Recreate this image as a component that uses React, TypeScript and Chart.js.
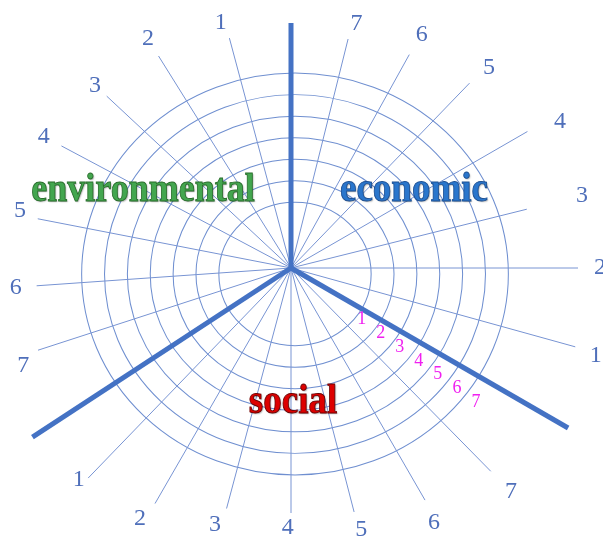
import React, { useEffect, useRef } from 'react';
import { Chart, registerables } from 'chart.js';

Chart.register(...registerables);

// ---- data ----
const SECTOR_NAMES = ['economic', 'social', 'environmental'];
const ITEM_LABELS = ['7', '6', '5', '4', '3', '2', '1'];
// one empty slot (sector boundary) followed by the 7 item spokes, per sector
const SPOKE_LABELS = SECTOR_NAMES.flatMap(() => ['', ...ITEM_LABELS]);
const RING_VALUES = [1, 2, 3, 4, 5, 6, 7];
const RING_LABELS = ['1', '2', '3', '4', '5', '6', '7'];

// ---- styles (hand-drawn look of the original) ----
const GRID_COLOR = '#6f8fd0';
const SPOKE_COLOR = '#7894d3';
const THICK_COLOR = '#4472c4';
const NUM_COLOR = '#4f6fba';
const TICK_COLOR = '#f020f0';
// spoke lengths (px) per slot; slots 0/8/16 are the thick sector boundaries
const SPOKE_LEN = [
  245, 236, 244, 257, 273, 243, 287, 295,
  320, 285, 268, 252, 245, 249, 272, 292,
  309, 266, 255, 258, 260, 252, 250, 238,
];
// small angular deviations (deg) of the drawn spokes
const SPOKE_DA = [
  0, -1, -1, -1, 0, 1, 0, 0.5,
  0, 0.5, 0, 0.5, 0, 0, 0, -1,
  -3.2, -3, -4, -4, -2, -2, -2, 0,
];
const LABEL_R = [
  0, 253, 267, 282, 306, 300, 309, 317,
  0, 314, 292, 271, 260, 268, 293, 300,
  0, 285, 276, 277, 280, 268, 270, 255,
];
const LABEL_DA = [
  0, 0, -0.7, -0.4, 1.5, 1, 0, 1,
  0, 0.5, 0.7, 0, 0.7, 1.5, 1, 0,
  0, -5, -4, -3, -2, -2, -2, -1,
];
const SECTOR_STYLE: Record<string, { x: number; y: number; fill: string; stroke: string; size: number }> = {
  economic: { x: 414, y: 201, fill: '#2a76cc', stroke: '#1c4f92', size: 37 },
  social: { x: 293, y: 413, fill: '#dd0000', stroke: '#6a0000', size: 37 },
  environmental: { x: 143, y: 201, fill: '#43a64f', stroke: '#2a6e2c', size: 36 },
};
const DEG = Math.PI / 180;

const decorPlugin = {
  id: 'decor',
  beforeDraw(chart: any) {
    // rings of the original are slightly elliptical and offset from the spoke hub
    const scale = chart.scales.r;
    const ctx: CanvasRenderingContext2D = chart.ctx;
    ctx.save();
    ctx.translate(scale.xCenter + 4, scale.yCenter + 6);
    ctx.scale(1.03, 0.97);
    ctx.translate(-scale.xCenter, -scale.yCenter);
  },
  beforeDatasetsDraw(chart: any) {
    const scale = chart.scales.r;
    const ctx: CanvasRenderingContext2D = chart.ctx;
    ctx.restore();
    ctx.save();
    ctx.lineCap = 'butt';
    const n = SPOKE_LABELS.length;
    const order = [...Array(n).keys()].sort((a, b) => (a % 8 === 0 ? 1 : 0) - (b % 8 === 0 ? 1 : 0));
    for (const i of order) {
      const boundary = i % 8 === 0;
      const p1 = scale.getPointPosition(i, SPOKE_LEN[i], SPOKE_DA[i] * DEG);
      ctx.strokeStyle = boundary ? THICK_COLOR : SPOKE_COLOR;
      ctx.lineWidth = boundary ? 5 : 1;
      ctx.beginPath();
      ctx.moveTo(scale.xCenter, scale.yCenter);
      ctx.lineTo(p1.x, p1.y);
      ctx.stroke();
    }
    ctx.restore();
  },
  afterDraw(chart: any) {
    const scale = chart.scales.r;
    const ctx: CanvasRenderingContext2D = chart.ctx;
    const n = SPOKE_LABELS.length;
    ctx.save();
    // spoke labels
    ctx.fillStyle = NUM_COLOR;
    ctx.font = '24px "Liberation Serif", "Times New Roman", serif';
    ctx.textAlign = 'center';
    ctx.textBaseline = 'middle';
    for (let i = 0; i < n; i++) {
      const lab = SPOKE_LABELS[i];
      if (!lab) continue;
      const p = scale.getPointPosition(i, LABEL_R[i], LABEL_DA[i] * DEG);
      ctx.fillText(lab, p.x, p.y);
    }
    // ring (tick) labels along the economic/social boundary
    ctx.fillStyle = TICK_COLOR;
    ctx.font = '18px "Liberation Serif", "Times New Roman", serif';
    scale.ticks.forEach((t: any, k: number) => {
      const d = scale.getDistanceFromCenterForValue(t.value) * 1.06 + 9;
      const p = scale.getPointPosition(8, d, 6 * DEG);
      ctx.fillText(RING_LABELS[k], p.x, p.y);
    });
    // sector names
    ctx.textBaseline = 'alphabetic';
    SECTOR_NAMES.forEach((name) => {
      const st = SECTOR_STYLE[name];
      ctx.save();
      ctx.translate(st.x, st.y);
      ctx.scale(1, 1.12);
      ctx.font = `bold ${st.size}px "Liberation Serif", "Times New Roman", serif`;
      ctx.shadowColor = 'rgba(0,0,0,0.35)';
      ctx.shadowOffsetX = 1;
      ctx.shadowOffsetY = 1;
      ctx.shadowBlur = 1.5;
      ctx.fillStyle = st.fill;
      ctx.fillText(name, 0, 0);
      ctx.shadowColor = 'transparent';
      ctx.strokeStyle = st.stroke;
      ctx.lineWidth = 0.8;
      ctx.strokeText(name, 0, 0);
      ctx.restore();
    });
    ctx.restore();
  },
};

export default function App() {
  const ref = useRef<HTMLCanvasElement>(null);
  useEffect(() => {
    if (!ref.current) return;
    const chart = new Chart(ref.current, {
      type: 'radar',
      data: {
        labels: SPOKE_LABELS,
        datasets: [{ label: 'rings', data: SPOKE_LABELS.map(() => null), pointRadius: 0, borderWidth: 0 }],
      },
      options: {
        animation: false,
        responsive: true,
        maintainAspectRatio: false,
        layout: { padding: { top: 32, bottom: 34, left: 55, right: 76 } },
        plugins: { legend: { display: false }, tooltip: { enabled: false } },
        scales: {
          r: {
            min: -2.33,
            max: 8.3,
            startAngle: 0,
            afterBuildTicks: (scale: any) => {
              scale.ticks = RING_VALUES.map((v) => ({ value: v }));
            },
            ticks: { display: false },
            pointLabels: { display: false },
            grid: { circular: true, color: GRID_COLOR, lineWidth: 1 },
            angleLines: { display: false },
          },
        },
      },
      plugins: [decorPlugin],
    });
    return () => chart.destroy();
  }, []);
  return (
    <div style={{ position: 'fixed', left: 0, top: 0, width: 603, height: 538, background: '#fff' }}>
      <canvas ref={ref} />
    </div>
  );
}
